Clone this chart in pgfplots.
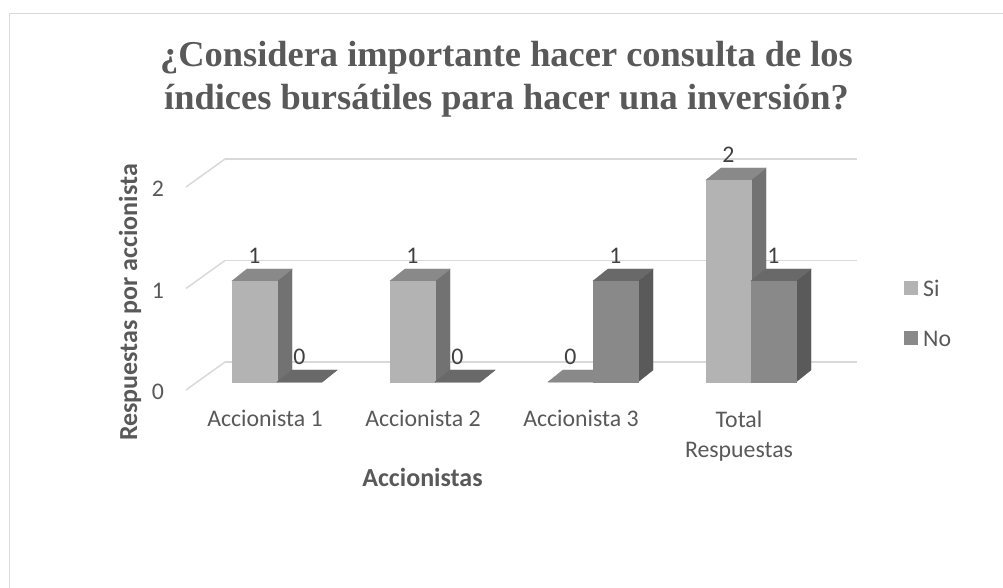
\documentclass[border=0pt]{standalone}
\usepackage{pgfplots}
\pgfplotsset{compat=1.18}
\usepackage{fontspec}
\setmainfont{Carlito}
\newfontfamily\titlefont{Liberation Serif}
\definecolor{gridc}{HTML}{D9D9D9}
\definecolor{txt}{HTML}{595959}
\definecolor{lbl}{HTML}{404040}
\definecolor{siF}{HTML}{B3B3B3}
\definecolor{siT}{HTML}{898989}
\definecolor{siS}{HTML}{727272}
\definecolor{noF}{HTML}{898989}
\definecolor{noT}{HTML}{696969}
\definecolor{noS}{HTML}{5A5A5A}
\pgfdeclareplotmark{nil}{}
\newcommand\ticksize{\fontsize{23.8}{30}\selectfont}
\pgfplotsset{
  box3d/.style n args={4}{
    only marks, mark=nil, point meta=y,
    nodes near coords,
    nodes near coords style={anchor=center, xshift=#1pt, yshift=25pt, font=\ticksize, text=lbl},
    scatter,
    visualization depends on={y \as \barval},
    scatter/@pre marker code/.code={%
      \pgfmathsetmacro\hh{\barval*101}%
      \fill[#4] (#1pt+22.5pt,0pt) -- (#1pt+37.5pt,12pt) -- (#1pt+37.5pt,12pt-\hh pt) -- (#1pt+22.5pt,-\hh pt) -- cycle;
      \fill[#3] (#1pt-22.5pt,0pt) -- (#1pt-7.5pt,12pt) -- (#1pt+37.5pt,12pt) -- (#1pt+22.5pt,0pt) -- cycle;
      \fill[#2] (#1pt-22.5pt,-\hh pt) rectangle (#1pt+22.5pt,0pt);
    },
    legend image code/.code={\path[draw=none,fill=none] (0pt,0pt) -- (17pt,0pt); \fill[#2,draw=none] (0pt,-6pt) rectangle (14pt,8pt);},
  }
}
\begin{document}
\begin{tikzpicture}
\useasboundingbox (0pt,0pt) rectangle (1003pt,588pt);
\clip (0pt,0pt) rectangle (1003pt,588pt);
\fill[white] (0pt,0pt) rectangle (1003pt,588pt);
\draw[gridc, line width=1.5pt] (9.5pt,-5pt) -- (9.5pt,574.5pt) -- (1010pt,574.5pt);
% title
\node[anchor=base, text=txt, font=\titlefont\bfseries\fontsize{36.4}{43}\selectfont] at (506.5pt,521.3pt) {¿Considera importante hacer consulta de los};
\node[anchor=base, text=txt, font=\titlefont\bfseries\fontsize{36.4}{43}\selectfont] at (506.5pt,478pt) {índices bursátiles para hacer una inversión?};
% back wall with gridlines and value ticks
\begin{axis}[at={(225pt,226pt)}, anchor=south west, scale only axis,
  width=632pt, height=203pt, xmin=0, xmax=1, ymin=0, ymax=2,
  xtick=\empty, ytick={0,1,2}, ymajorgrids,
  grid style={gridc, line width=1.5pt},
  axis line style={draw=none}, major tick length=0pt,
  yticklabel style={anchor=center, xshift=-67pt, yshift=-30pt, font=\ticksize, text=txt},
  /pgf/number format/assume math mode=true, clip=false]
\draw[gridc, line width=1.5pt] (axis cs:0,0) -- ++(-39pt,-28pt);
\draw[gridc, line width=1.5pt] (axis cs:0,1) -- ++(-39pt,-28pt);
\draw[gridc, line width=1.5pt] (axis cs:0,2) -- ++(-39pt,-28pt);
\end{axis}
% bars
\begin{axis}[at={(119pt,206pt)}, anchor=south west, x=158pt, y=101pt,
  xmin=-1, xmax=4.5, ymin=0, ymax=3, clip=false,
  axis line style={draw=none}, major tick length=0pt, ytick=\empty,
  xtick={0,1,2,3},
  xticklabels={Accionista 1, Accionista 2, Accionista 3, {Total\\Respuestas}},
  xticklabel style={align=center, anchor=north, xshift=-12pt, yshift=-25pt, font=\ticksize, text=txt},
  /pgf/number format/assume math mode=true,
  legend style={at={(axis description cs:0.9033,0.3434)}, anchor=north west, draw=none, fill=none,
    font=\ticksize, text=txt, row sep=29pt, inner sep=0pt},
  legend cell align=left]
\addplot[box3d={-22.5}{siF}{siT}{siS}] coordinates {(0,1) (1,1) (2,0) (3,2)};
\addlegendentry{Si}
\addplot[box3d={22.5}{noF}{noT}{noS}] coordinates {(0,0) (1,0) (2,1) (3,1)};
\addlegendentry{No}
\end{axis}
% axis titles
\node[anchor=base, text=txt, font=\bfseries\fontsize{26}{31}\selectfont] at (422.5pt,101.5pt) {Accionistas};
\node[anchor=base, rotate=90, text=txt, font=\bfseries\fontsize{26}{31}\selectfont] at (137pt,285.5pt) {Respuestas por accionista};
\end{tikzpicture}
\end{document}
